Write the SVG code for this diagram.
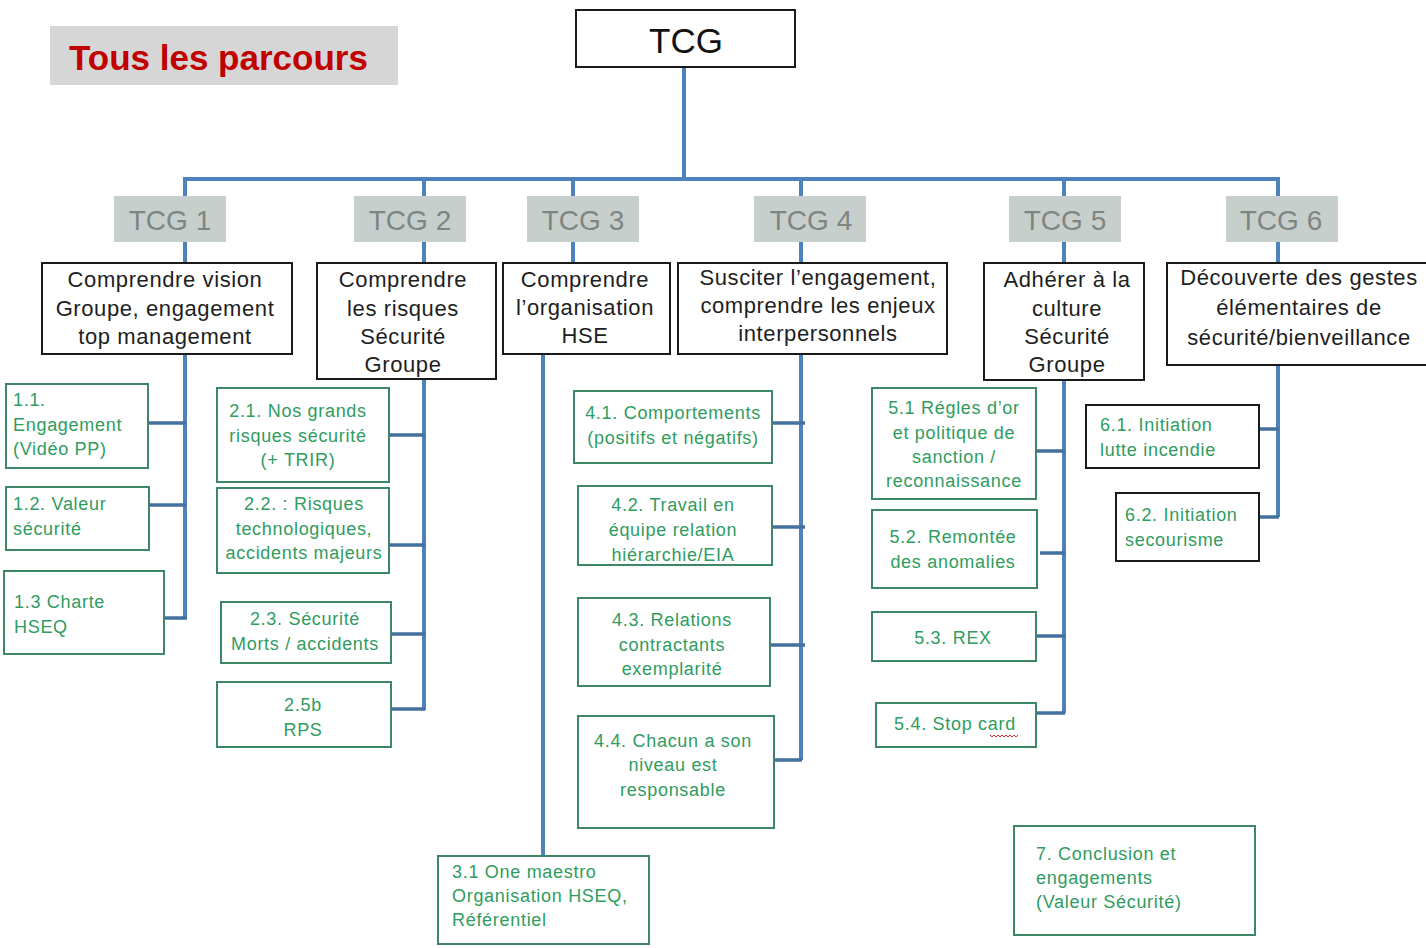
<svg xmlns="http://www.w3.org/2000/svg" width="1426" height="948" viewBox="0 0 1426 948">
<style>
.bg{fill:#ffffff}
.ln{fill:none;stroke:#4f81bd;stroke-width:4}
.br{fill:none;stroke:#44709f;stroke-width:3.5}
.lbl{fill:#c7cfcc}
.lblt{font-family:"Liberation Sans",Arial,sans-serif;font-size:28px;fill:#7f8582;text-anchor:middle}
.db{fill:#ffffff;stroke:#1a1a1a;stroke-width:2}
.dt{font-family:"Liberation Sans",Arial,sans-serif;font-size:22px;letter-spacing:0.6px;fill:#1e1e1e;text-anchor:middle}
.gb{fill:#ffffff;stroke:#3d8767;stroke-width:2}
.kb{fill:#ffffff;stroke:#1a1a1a;stroke-width:2}
.gt{font-family:"Liberation Sans",Arial,sans-serif;font-size:18px;letter-spacing:0.7px;fill:#2f9c60}
.c{text-anchor:middle}
</style>
<rect class="bg" x="0" y="0" width="1426" height="948"/>

<g id="title">
<rect x="50" y="26" width="348" height="59" fill="#d6d6d6"/>
<text x="69" y="70" font-family="Liberation Sans,Arial,sans-serif" font-size="35" font-weight="bold" fill="#c00000">Tous les parcours</text>
</g>

<g id="connectors">
<path class="ln" d="M684 67 V179"/>
<path class="ln" d="M185 200 V179 H1278 V200"/>
<path class="ln" d="M185 179 V618"/>
<path class="br" d="M148 423 H186 M149 505 H186 M164 618 H187"/>
<path class="ln" d="M424 179 V710"/>
<path class="br" d="M389 435 H425 M389 545 H425 M391 634 H425 M391 709 H425"/>
<path class="ln" d="M573 179 V263"/>
<path class="ln" d="M543 354 V856"/>
<path class="ln" d="M801 179 V760"/>
<path class="br" d="M772 423 H805 M772 527 H805 M770 645 H805 M774 760 H802"/>
<path class="ln" d="M1064 179 V713"/>
<path class="br" d="M1036 451 H1065 M1040 553 H1065 M1036 636 H1065 M1036 713 H1065"/>
<path class="ln" d="M1278 179 V517"/>
<path class="br" d="M1259 429 H1279 M1259 517 H1279"/>
</g>

<g id="root">
<rect class="db" x="576" y="10" width="219" height="57"/>
<text x="686" y="53" font-family="Liberation Sans,Arial,sans-serif" font-size="35" fill="#111" text-anchor="middle">TCG</text>
</g>

<g id="tcg1-label"><rect class="lbl" x="114" y="196" width="112" height="46"/><text class="lblt" x="170" y="230">TCG 1</text></g>
<g id="tcg2-label"><rect class="lbl" x="354" y="196" width="112" height="46"/><text class="lblt" x="410" y="230">TCG 2</text></g>
<g id="tcg3-label"><rect class="lbl" x="527" y="196" width="112" height="46"/><text class="lblt" x="583" y="230">TCG 3</text></g>
<g id="tcg4-label"><rect class="lbl" x="754" y="196" width="112" height="46"/><text class="lblt" x="811" y="230">TCG 4</text></g>
<g id="tcg5-label"><rect class="lbl" x="1009" y="196" width="112" height="46"/><text class="lblt" x="1065" y="230">TCG 5</text></g>
<g id="tcg6-label"><rect class="lbl" x="1226" y="196" width="112" height="46"/><text class="lblt" x="1281" y="230">TCG 6</text></g>

<g id="tcg1-desc"><rect class="db" x="42" y="263" width="250" height="91"/>
<text class="dt" x="165" y="287">Comprendre vision</text>
<text class="dt" x="165" y="316">Groupe, engagement</text>
<text class="dt" x="165" y="344">top management</text></g>

<g id="tcg2-desc"><rect class="db" x="317" y="263" width="179" height="116"/>
<text class="dt" x="403" y="287">Comprendre</text>
<text class="dt" x="403" y="316">les risques</text>
<text class="dt" x="403" y="344">Sécurité</text>
<text class="dt" x="403" y="372">Groupe</text></g>

<g id="tcg3-desc"><rect class="db" x="503" y="263" width="167" height="91"/>
<text class="dt" x="585" y="287">Comprendre</text>
<text class="dt" x="585" y="315">l’organisation</text>
<text class="dt" x="585" y="343">HSE</text></g>

<g id="tcg4-desc"><rect class="db" x="678" y="263" width="269" height="91"/>
<text class="dt" x="818" y="285">Susciter l’engagement,</text>
<text class="dt" x="818" y="313">comprendre les enjeux</text>
<text class="dt" x="818" y="341">interpersonnels</text></g>

<g id="tcg5-desc"><rect class="db" x="984" y="263" width="160" height="117"/>
<text class="dt" x="1067" y="287">Adhérer à la</text>
<text class="dt" x="1067" y="316">culture</text>
<text class="dt" x="1067" y="344">Sécurité</text>
<text class="dt" x="1067" y="372">Groupe</text></g>

<g id="tcg6-desc"><rect class="db" x="1167" y="263" width="262" height="102"/>
<text class="dt" x="1299" y="285">Découverte des gestes</text>
<text class="dt" x="1299" y="315">élémentaires de</text>
<text class="dt" x="1299" y="345">sécurité/bienveillance</text></g>

<g id="n1-1"><rect class="gb" x="6" y="384" width="142" height="84"/>
<text class="gt" x="13" y="406">1.1.</text>
<text class="gt" x="13" y="431">Engagement</text>
<text class="gt" x="13" y="455">(Vidéo PP)</text></g>
<g id="n1-2"><rect class="gb" x="6" y="487" width="143" height="63"/>
<text class="gt" x="13" y="510">1.2. Valeur</text>
<text class="gt" x="13" y="535">sécurité</text></g>
<g id="n1-3"><rect class="gb" x="4" y="571" width="160" height="83"/>
<text class="gt" x="14" y="608">1.3 Charte</text>
<text class="gt" x="14" y="633">HSEQ</text></g>

<g id="n2-1"><rect class="gb" x="217" y="388" width="172" height="94"/>
<text class="gt c" x="298" y="417">2.1. Nos grands</text>
<text class="gt c" x="298" y="442">risques sécurité</text>
<text class="gt c" x="298" y="466">(+ TRIR)</text></g>
<g id="n2-2"><rect class="gb" x="217" y="488" width="172" height="85"/>
<text class="gt c" x="304" y="510">2.2. : Risques</text>
<text class="gt c" x="304" y="535">technologiques,</text>
<text class="gt c" x="304" y="559">accidents majeurs</text></g>
<g id="n2-3"><rect class="gb" x="221" y="602" width="170" height="61"/>
<text class="gt c" x="305" y="625">2.3. Sécurité</text>
<text class="gt c" x="305" y="650">Morts / accidents</text></g>
<g id="n2-5b"><rect class="gb" x="217" y="682" width="174" height="65"/>
<text class="gt c" x="303" y="711">2.5b</text>
<text class="gt c" x="303" y="736">RPS</text></g>

<g id="n3-1"><rect class="gb" x="438" y="856" width="211" height="88"/>
<text class="gt" x="452" y="878">3.1 One maestro</text>
<text class="gt" x="452" y="902">Organisation HSEQ,</text>
<text class="gt" x="452" y="926">Référentiel</text></g>

<g id="n4-1"><rect class="gb" x="574" y="391" width="198" height="72"/>
<text class="gt c" x="673" y="419">4.1. Comportements</text>
<text class="gt c" x="673" y="444">(positifs et négatifs)</text></g>
<g id="n4-2"><rect class="gb" x="578" y="486" width="194" height="79"/>
<text class="gt c" x="673" y="511">4.2. Travail en</text>
<text class="gt c" x="673" y="536">équipe relation</text>
<text class="gt c" x="673" y="561">hiérarchie/EIA</text></g>
<g id="n4-3"><rect class="gb" x="578" y="598" width="192" height="88"/>
<text class="gt c" x="672" y="626">4.3. Relations</text>
<text class="gt c" x="672" y="651">contractants</text>
<text class="gt c" x="672" y="675">exemplarité</text></g>
<g id="n4-4"><rect class="gb" x="578" y="716" width="196" height="112"/>
<text class="gt c" x="673" y="747">4.4. Chacun a son</text>
<text class="gt c" x="673" y="771">niveau est</text>
<text class="gt c" x="673" y="796">responsable</text></g>

<g id="n5-1"><rect class="gb" x="872" y="388" width="164" height="111"/>
<text class="gt c" x="954" y="414">5.1 Régles d’or</text>
<text class="gt c" x="954" y="439">et politique de</text>
<text class="gt c" x="954" y="463">sanction /</text>
<text class="gt c" x="954" y="487">reconnaissance</text></g>
<g id="n5-2"><rect class="gb" x="872" y="510" width="165" height="78"/>
<text class="gt c" x="953" y="543">5.2. Remontée</text>
<text class="gt c" x="953" y="568">des anomalies</text></g>
<g id="n5-3"><rect class="gb" x="872" y="612" width="164" height="49"/>
<text class="gt c" x="953" y="644">5.3. REX</text></g>
<g id="n5-4"><rect class="gb" x="876" y="703" width="160" height="44"/>
<text class="gt c" x="955" y="730">5.4. Stop card</text>
<path d="M990 735 l2 2 l2 -2 l2 2 l2 -2 l2 2 l2 -2 l2 2 l2 -2 l2 2 l2 -2 l2 2 l2 -2 l2 2 l2 -2" fill="none" stroke="#e03030" stroke-width="1"/></g>

<g id="n6-1"><rect class="kb" x="1086" y="405" width="173" height="63"/>
<text class="gt" x="1100" y="431">6.1. Initiation</text>
<text class="gt" x="1100" y="456">lutte incendie</text></g>
<g id="n6-2"><rect class="kb" x="1116" y="493" width="143" height="68"/>
<text class="gt" x="1125" y="521">6.2. Initiation</text>
<text class="gt" x="1125" y="546">secourisme</text></g>

<g id="n7"><rect class="gb" x="1014" y="826" width="241" height="109"/>
<text class="gt" x="1036" y="860">7. Conclusion et</text>
<text class="gt" x="1036" y="884">engagements</text>
<text class="gt" x="1036" y="908">(Valeur Sécurité)</text></g>
</svg>
